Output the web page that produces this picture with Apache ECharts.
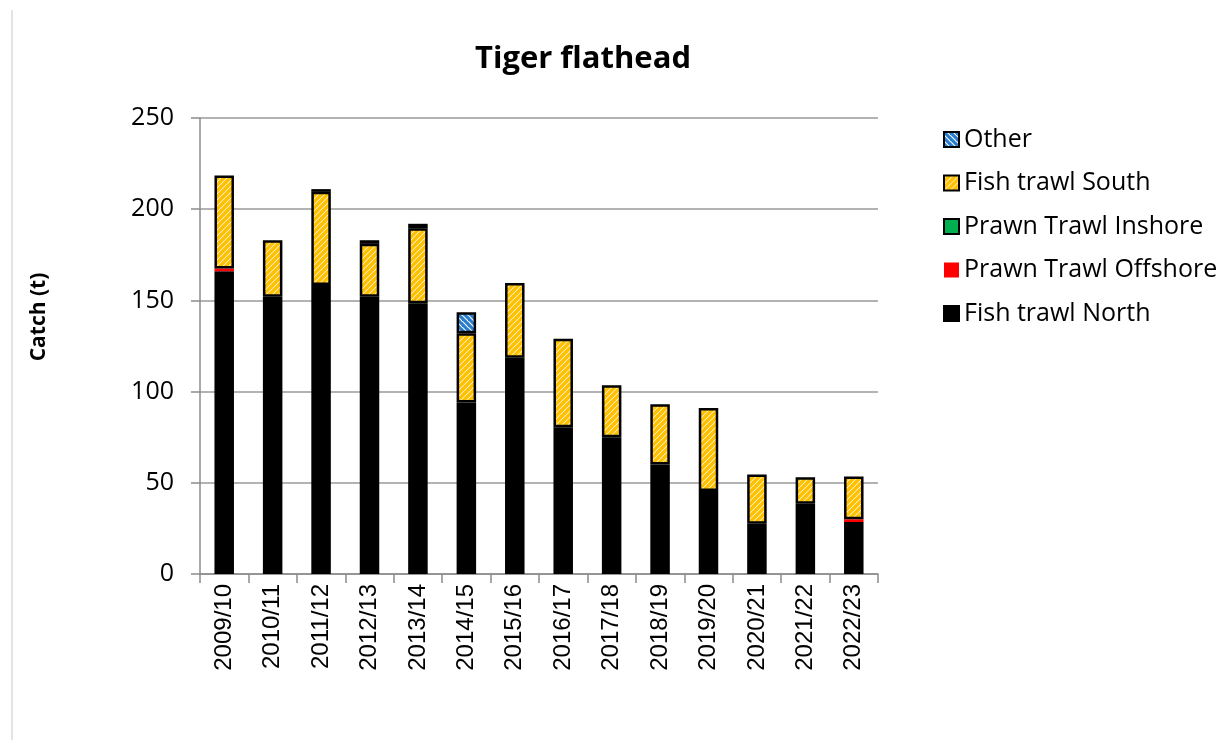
<!DOCTYPE html>
<html>
<head>
<meta charset="utf-8">
<script src="https://cdn.jsdelivr.net/npm/echarts@6/dist/echarts.min.js"></script>
<style>
html,body{margin:0;padding:0;background:#fff;}
#chart{width:1224px;height:740px;}
</style>
</head>
<body>
<div id="chart"></div>
<script>
const categories = ['2009/10','2010/11','2011/12','2012/13','2013/14','2014/15','2015/16','2016/17','2017/18','2018/19','2019/20','2020/21','2021/22','2022/23'];
const fishTrawlNorth     = [166, 152, 158.5, 152, 148.5, 94, 118.5, 80.5, 75, 60, 45.5, 27.5, 38.5, 28.5];
const prawnTrawlOffshore = [1.5, 0, 0, 0, 0, 0, 0, 0, 0, 0, 0, 0, 0, 1.5];
const prawnTrawlInshore  = [0, 0, 0, 0, 0, 0, 0, 0, 0, 0, 0, 0, 0, 0];
const fishTrawlSouth     = [51, 31, 51, 29, 41, 38, 41, 48.5, 28.5, 33, 45.5, 27, 14.5, 23.5];
const other              = [0, 0, 1.5, 2, 2.5, 11.5, 0, 0, 0, 0, 0, 0, 0, 0];
const yTicks = [0, 50, 100, 150, 200, 250];
const legendOrder = ['Other','Fish trawl South','Prawn Trawl Inshore','Prawn Trawl Offshore','Fish trawl North'];

function stripes(fg, dir, lw) {
  const n = 6;
  const c = document.createElement('canvas');
  c.width = n; c.height = n;
  const g = c.getContext('2d');
  g.fillStyle = '#ffffff';
  g.fillRect(0, 0, n, n);
  g.strokeStyle = fg;
  g.lineWidth = lw;
  g.lineCap = 'square';
  const segs = dir === '/' ?
    [[-1,1,1,-1],[0,n,n,0],[n-1,n+1,n+1,n-1]] :
    [[-1,n-1,1,n+1],[0,0,n,n],[n-1,-1,n+1,1]];
  segs.forEach(s => { g.beginPath(); g.moveTo(s[0], s[1]); g.lineTo(s[2], s[3]); g.stroke(); });
  return c;
}
const nz = arr => arr.map(v => v === 0 ? '-' : v);

const chart = echarts.init(document.getElementById('chart'));
const border = {borderColor: '#000', borderWidth: 2.5};
chart.setOption({
  animation: false,
  backgroundColor: '#fff',
  title: {
    text: 'Tiger flathead', left: 578, top: 39, textAlign: 'center',
    textStyle: {fontFamily: 'Open Sans', fontWeight: 'bold', fontSize: 31, color: '#000'}
  },
  legend: {
    orient: 'vertical', left: 938, top: 122,
    data: legendOrder, itemWidth: 15, itemHeight: 15, itemGap: 18.5,
    icon: 'rect',
    textStyle: {fontFamily: 'Open Sans', fontSize: 25, color: '#000', lineHeight: 25}
  },
  grid: {left: 200, right: 346, top: 118, bottom: 166, containLabel: false},
  xAxis: {
    type: 'category', data: categories,
    axisLine: {lineStyle: {color: '#8c8c8c', width: 1.5}},
    axisTick: {show: true, length: 9, lineStyle: {color: '#8c8c8c', width: 1.5}},
    axisLabel: {rotate: 90, margin: 10, fontFamily: 'Liberation Sans', fontSize: 24, color: '#000', interval: 0}
  },
  yAxis: {
    type: 'value', min: yTicks[0], max: yTicks[yTicks.length-1], interval: 50,
    name: 'Catch (t)', nameLocation: 'middle', nameRotate: 90, nameGap: 150,
    nameTextStyle: {fontFamily: 'Open Sans', fontWeight: 'bold', fontSize: 21, color: '#000', padding: [0, 0, 0, 58]},
    axisLine: {show: true, lineStyle: {color: '#8c8c8c', width: 1.5}},
    axisTick: {show: true, length: 9, lineStyle: {color: '#8c8c8c', width: 1.5}},
    axisLabel: {margin: 26, fontFamily: 'Open Sans', fontSize: 25, color: '#000'},
    splitLine: {lineStyle: {color: '#9a9a9a', width: 1.5}}
  },
  graphic: [{type: 'line', shape: {x1: 12, y1: 10, x2: 12, y2: 740}, style: {stroke: '#c8c8c8', lineWidth: 1}}],
  series: [
    {name: 'Fish trawl North', type: 'bar', stack: 'c', barWidth: 19.5, data: nz(fishTrawlNorth),
     itemStyle: Object.assign({color: '#000'}, border)},
    {name: 'Prawn Trawl Offshore', type: 'bar', stack: 'c', data: nz(prawnTrawlOffshore),
     itemStyle: {color: '#ff0000', borderColor: '#000', borderWidth: 0}},
    {name: 'Prawn Trawl Inshore', type: 'bar', stack: 'c', data: nz(prawnTrawlInshore),
     itemStyle: Object.assign({color: '#00b050'}, border)},
    {name: 'Fish trawl South', type: 'bar', stack: 'c', data: nz(fishTrawlSouth),
     itemStyle: Object.assign({color: {image: stripes('#ffc000', '/', 3.6), repeat: 'repeat'}}, border)},
    {name: 'Other', type: 'bar', stack: 'c', data: nz(other),
     itemStyle: Object.assign({color: {image: stripes('#2a7ccc', '\\', 3.2), repeat: 'repeat'}}, border)}
  ]
});
</script>
</body>
</html>
